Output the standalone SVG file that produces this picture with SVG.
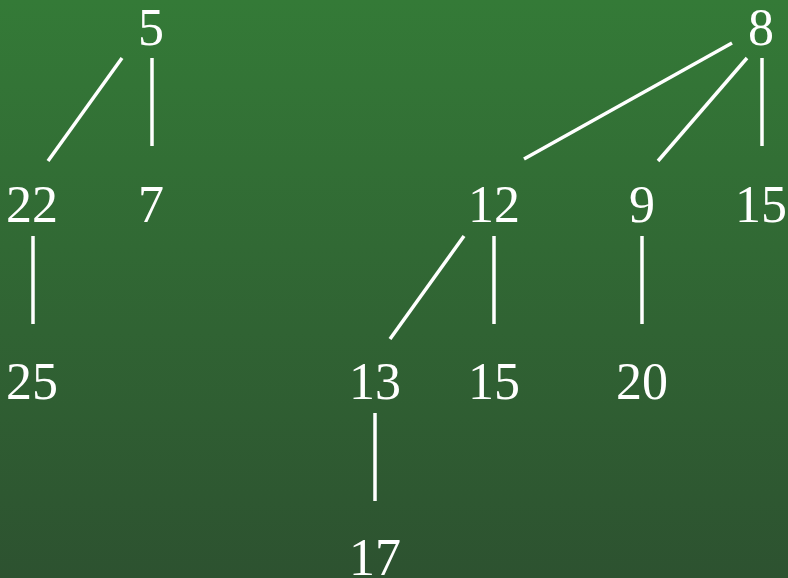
<svg xmlns="http://www.w3.org/2000/svg" width="788" height="578" viewBox="0 0 788 578">
<defs>
<linearGradient id="bg" x1="0" y1="0" x2="0" y2="1">
<stop offset="0" stop-color="#347a37"/>
<stop offset="1" stop-color="#2d5230"/>
</linearGradient>
<style>
text{font-family:"Liberation Serif","DejaVu Serif",serif;font-size:52px;fill:#fff;text-anchor:middle}
#edges line{stroke:#fff;stroke-width:3.5;stroke-linecap:butt}
</style>
</defs>
<rect width="788" height="578" fill="url(#bg)"/>
<g id="edges">
<line x1="122" y1="58" x2="48" y2="161"/>
<line x1="152" y1="58" x2="152" y2="146"/>
<line x1="33" y1="236" x2="33" y2="324"/>
<line x1="732" y1="43" x2="524" y2="159"/>
<line x1="747" y1="58" x2="658" y2="161"/>
<line x1="762" y1="58" x2="762" y2="146"/>
<line x1="464" y1="236" x2="390" y2="339"/>
<line x1="494" y1="236" x2="494" y2="324"/>
<line x1="642" y1="236" x2="642" y2="324"/>
<line x1="375" y1="413" x2="375" y2="501"/>
</g>
<g id="n5"><text x="151" y="45">5</text></g>
<g id="n22"><text x="32" y="222">22</text></g>
<g id="n7"><text x="151" y="222">7</text></g>
<g id="n25"><text x="32" y="399">25</text></g>
<g id="n8"><text x="761" y="45">8</text></g>
<g id="n12"><text x="494" y="222">12</text></g>
<g id="n9"><text x="642" y="222">9</text></g>
<g id="n15a"><text x="761" y="222">15</text></g>
<g id="n13"><text x="375" y="399">13</text></g>
<g id="n15b"><text x="494" y="399">15</text></g>
<g id="n20"><text x="642" y="399">20</text></g>
<g id="n17"><text x="375" y="575">17</text></g>
</svg>
